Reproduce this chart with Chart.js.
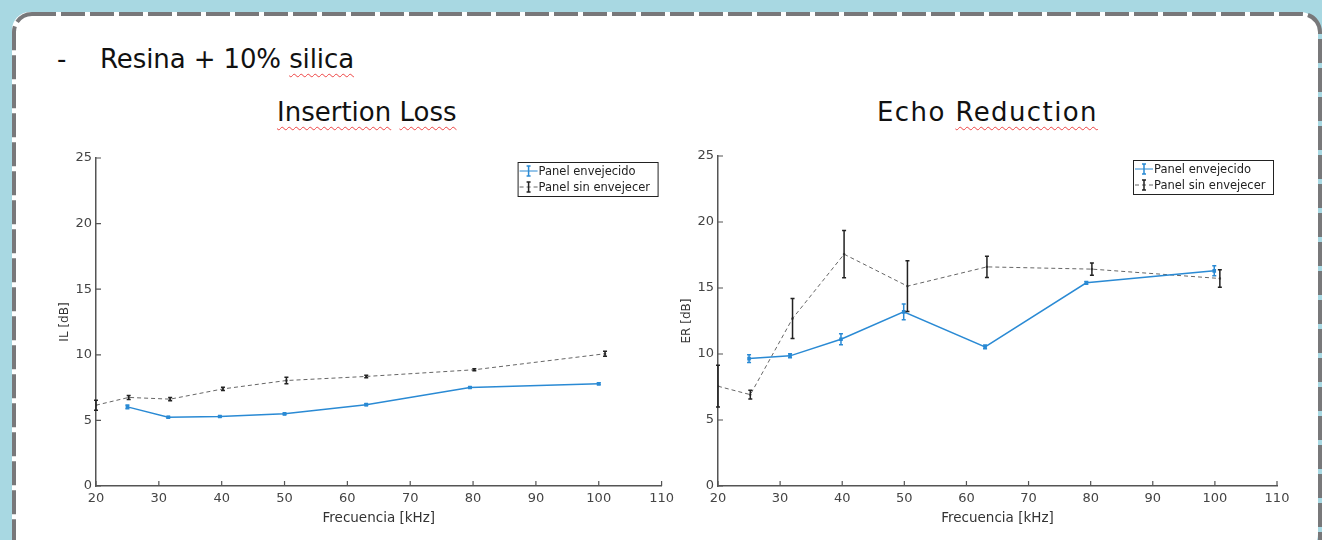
<!DOCTYPE html>
<html>
<head>
<meta charset="utf-8">
<script src="https://cdn.jsdelivr.net/npm/chart.js@4/dist/chart.umd.min.js"></script>
<style>
  html, body { margin: 0; padding: 0; }
  body { width: 1322px; height: 540px; background: #a8d8e2; position: relative; overflow: hidden; font-family: "DejaVu Sans", sans-serif; }
  .slide { position: absolute; left: 12px; top: 12px; width: 1306px; height: 540px; background: #fff; border-radius: 18px; }
  .frame { position: absolute; left: 12px; top: 12px; }
  .txt { position: absolute; color: #111; white-space: nowrap; }
  .wavy { text-decoration: underline wavy #ee4444; text-decoration-thickness: 1px; text-underline-offset: 5px; }
  canvas { position: absolute; }
</style>
</head>
<body>
<div class="slide"></div>
<svg class="frame" width="1310" height="560">
  <rect x="2" y="2" width="1306" height="560" rx="18" ry="18" fill="none" stroke="#78787a" stroke-width="4" stroke-dasharray="24 5"/>
</svg>
<div class="txt" style="left:57px; top:44px; font-size:26px;">-</div>
<div class="txt" style="left:100px; top:44px; font-size:26px; letter-spacing:-0.1px;">Resina + 10% <span class="wavy">silica</span></div>
<div class="txt" style="left:277px; top:97px; font-size:26px;"><span class="wavy">Insertion</span> <span class="wavy">Loss</span></div>
<div class="txt" style="left:877px; top:97px; font-size:26px; letter-spacing:1.4px;">Echo <span class="wavy">Reduction</span></div>

<canvas id="il-chart" style="left:55px; top:140px;" width="624" height="400"></canvas>
<canvas id="er-chart" style="left:675px; top:140px;" width="647" height="400"></canvas>

<script>
// Insertion Loss
const ilAgedFreq = [25, 31.5, 39.7, 50, 63, 79.5, 100];
const ilAgedVal  = [6.03, 5.24, 5.3, 5.5, 6.2, 7.51, 7.79];
const ilAgedErr  = [0.15, 0.06, 0.06, 0.05, 0.06, 0.06, 0.08];
const ilNewFreq  = [20, 25.2, 31.8, 40.2, 50.3, 63, 80.2, 101];
const ilNewVal   = [6.16, 6.75, 6.62, 7.4, 8.04, 8.35, 8.86, 10.08];
const ilNewErr   = [0.38, 0.15, 0.12, 0.12, 0.25, 0.1, 0.08, 0.2];

// Echo Reduction
const erAgedFreq = [25, 31.6, 39.8, 49.9, 63, 79.3, 99.9];
const erAgedVal  = [9.65, 9.86, 11.12, 13.19, 10.54, 15.39, 16.3];
const erAgedErr  = [0.3, 0.15, 0.42, 0.6, 0.15, 0.1, 0.38];
const erNewFreq  = [20, 25.2, 32, 40.3, 50.5, 63.3, 80.2, 100.8];
const erNewVal   = [7.56, 6.92, 12.69, 17.56, 15.14, 16.6, 16.43, 15.72];
const erNewErr   = [1.58, 0.33, 1.52, 1.79, 1.92, 0.8, 0.47, 0.67];

const xTicks = [20, 30, 40, 50, 60, 70, 80, 90, 100, 110];
const yTicks = [0, 5, 10, 15, 20, 25];
const labels = ["Panel envejecido", "Panel sin envejecer"];

const blue = "#2a8ad4";
const tickFont = { family: "DejaVu Sans", size: 13 };

function toPoints(xs, ys, errs) {
  return xs.map((x, i) => ({ x: x, y: ys[i], err: errs[i] }));
}

// barras de error, ticks hacia dentro y leyenda tipo matlab
const matlabStuff = {
  id: "matlabStuff",
  afterDatasetsDraw(chart) {
    const ctx = chart.ctx;
    const xs = chart.scales.x, ys = chart.scales.y;
    chart.data.datasets.forEach(ds => {
      ctx.save();
      ctx.strokeStyle = ds.errColor;
      ctx.lineWidth = 1.5;
      ds.data.forEach(p => {
        const px = xs.getPixelForValue(p.x);
        const top = ys.getPixelForValue(p.y + p.err);
        const bot = ys.getPixelForValue(p.y - p.err);
        ctx.beginPath();
        ctx.moveTo(px, top); ctx.lineTo(px, bot);
        ctx.moveTo(px - 2, top); ctx.lineTo(px + 2, top);
        ctx.moveTo(px - 2, bot); ctx.lineTo(px + 2, bot);
        ctx.stroke();
      });
      ctx.restore();
    });
  },
  afterDraw(chart) {
    const ctx = chart.ctx;
    const xs = chart.scales.x, ys = chart.scales.y;
    const area = chart.chartArea;
    ctx.save();
    ctx.strokeStyle = "#555";
    ctx.lineWidth = 1.2;
    ctx.beginPath();
    xTicks.forEach(v => {
      const px = xs.getPixelForValue(v);
      ctx.moveTo(px, area.bottom); ctx.lineTo(px, area.bottom - 5);
    });
    yTicks.forEach(v => {
      const py = ys.getPixelForValue(v);
      ctx.moveTo(area.left, py); ctx.lineTo(area.left + 5, py);
    });
    ctx.stroke();

    // leyenda
    const w = 140, h = 34;
    const bx = area.right - 4 - w, by = area.top + 4;
    ctx.fillStyle = "#fff";
    ctx.fillRect(bx, by, w, h);
    ctx.strokeStyle = "#222";
    ctx.lineWidth = 1;
    ctx.strokeRect(bx + 0.5, by + 0.5, w, h);
    ctx.font = "11.5px 'DejaVu Sans'";
    ctx.textBaseline = "middle";
    chart.data.datasets.forEach((ds, i) => {
      const cy = by + 9 + i * 16;
      ctx.strokeStyle = ds.borderColor;
      ctx.lineWidth = 1;
      ctx.setLineDash(ds.borderDash || []);
      ctx.beginPath();
      ctx.moveTo(bx + 2, cy); ctx.lineTo(bx + 20, cy);
      ctx.stroke();
      ctx.setLineDash([]);
      ctx.strokeStyle = ds.errColor;
      ctx.lineWidth = 1.5;
      ctx.beginPath();
      ctx.moveTo(bx + 11, cy - 5); ctx.lineTo(bx + 11, cy + 5);
      ctx.moveTo(bx + 9, cy - 5); ctx.lineTo(bx + 13, cy - 5);
      ctx.moveTo(bx + 9, cy + 5); ctx.lineTo(bx + 13, cy + 5);
      ctx.stroke();
      ctx.fillStyle = "#222";
      ctx.fillText(ds.label, bx + 21, cy + 1);
    });
    ctx.restore();
  }
};

function makeConfig(aged, fresh, yTitle, yWidth, titlePad, pad) {
  return {
    type: "scatter",
    data: {
      datasets: [
        {
          label: labels[0],
          data: aged,
          showLine: true,
          borderColor: blue,
          backgroundColor: blue,
          errColor: blue,
          borderWidth: 1.5,
          pointRadius: 1.5,
          pointStyle: "rect",
        },
        {
          label: labels[1],
          data: fresh,
          showLine: true,
          borderColor: "#666",
          backgroundColor: "#222",
          errColor: "#222",
          borderWidth: 1,
          borderDash: [4, 3],
          pointRadius: 1,
          pointStyle: "rect",
        },
      ],
    },
    options: {
      responsive: false,
      animation: false,
      layout: { padding: pad },
      plugins: { legend: { display: false }, tooltip: { enabled: false } },
      scales: {
        x: {
          type: "linear",
          min: 20, max: 110,
          afterBuildTicks: s => { s.ticks = xTicks.map(v => ({ value: v })); },
          afterFit: s => { s.height = 54; },
          grid: { display: false, drawTicks: false },
          border: { display: true, color: "#555", width: 1.5 },
          ticks: { font: tickFont, color: "#444", padding: 5, maxRotation: 0, autoSkip: false },
          title: { display: true, text: "Frecuencia [kHz]", font: { family: "DejaVu Sans", size: 13.5 }, color: "#333", padding: { top: 2, bottom: 13 } },
        },
        y: {
          type: "linear",
          min: 0, max: 25,
          afterBuildTicks: s => { s.ticks = yTicks.map(v => ({ value: v })); },
          afterFit: s => { s.width = yWidth; },
          grid: { display: false, drawTicks: false },
          border: { display: true, color: "#555", width: 1.5 },
          ticks: { font: tickFont, color: "#444", padding: 4 },
          title: { display: true, text: yTitle, font: { family: "DejaVu Sans", size: 12 }, color: "#333", padding: { top: titlePad, bottom: 2 } },
        },
      },
    },
    plugins: [matlabStuff],
  };
}

const ilChart = new Chart(
  document.querySelector("#il-chart").getContext("2d"),
  makeConfig(toPoints(ilAgedFreq, ilAgedVal, ilAgedErr), toPoints(ilNewFreq, ilNewVal, ilNewErr), "IL [dB]", 41, 3, { top: 18, right: 14, left: 0, bottom: 0 })
);

const erChart = new Chart(
  document.querySelector("#er-chart").getContext("2d"),
  makeConfig(toPoints(erAgedFreq, erAgedVal, erAgedErr), toPoints(erNewFreq, erNewVal, erNewErr), "ER [dB]", 43, 5, { top: 16, right: 45, left: 0, bottom: 0 })
);
</script>
</body>
</html>
